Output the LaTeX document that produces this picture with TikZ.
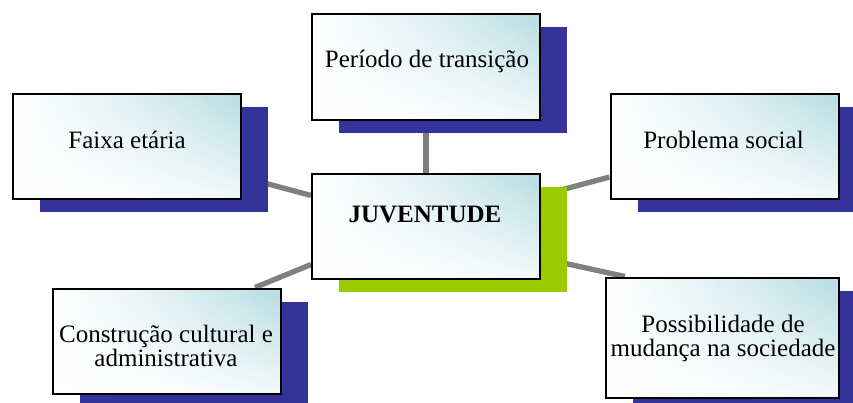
\documentclass[tikz,border=0pt]{standalone}
\usepackage{fontspec}
\setmainfont{Liberation Serif}
\usepackage{xcolor}
\definecolor{azul}{RGB}{51,51,153}
\definecolor{verde}{RGB}{153,204,0}
\definecolor{cinza}{RGB}{128,128,128}
\definecolor{agua}{RGB}{186,223,227}
\usetikzlibrary{shadows, fadings, calc, backgrounds}

\begin{document}
\begin{tikzpicture}[x=0.75pt, y=-0.75pt,
    caixa/.style={draw=black, line width=1.5pt, inner sep=0pt,
        minimum width=171pt, minimum height=78.75pt,
        top color=agua, middle color=agua!25!white, bottom color=white, shading angle=-8,
        postaction={fill=white, path fading=east},
        postaction={draw=black, line width=1.5pt},
        drop shadow={fill=#1, opacity=1, shadow xshift=20.25pt, shadow yshift=-9.75pt}},
    caixa/.default=azul,
    rotulo/.style={anchor=base, align=center, font=\fontsize{18.75}{17.6}\selectfont},
    ligacao/.style={draw=cinza, line width=4pt}]
    \useasboundingbox (0,0) rectangle (853,403);

    % Boxes
    \node[caixa] (faixa) at (127,146.5) {};
    \node[caixa] (periodo) at (426,67) {};
    \node[caixa=verde] (juv) at (426,226) {};
    \node[caixa] (problema) at (724.5,146.5) {};
    \node[caixa, minimum width=174.75pt, minimum height=90pt] (possib) at (722.5,337.5) {};
    \node[caixa] (constr) at (166.5,341) {};

    % Texts (base = last line)
    \node[rotulo] at (127,148) {Faixa etária};
    \node[rotulo] at (427,68) {Período de transição};
    \node[rotulo, font=\fontsize{18.75}{17.6}\selectfont\bfseries] at (425,222) {JUVENTUDE};
    \node[rotulo] at (723.5,148) {Problema social};
    \node[rotulo] at (723,356) {Possibilidade de\\mudança na sociedade};
    \node[rotulo] at (166,366) {Construção cultural e\\administrativa};

    % Connectors behind the boxes
    \begin{scope}[on background layer]
        \draw[ligacao] (periodo) -- (juv);
        \draw[ligacao] (faixa) -- (juv);
        \draw[ligacao] (juv) -- (problema);
        \draw[ligacao] ($(juv.west)!0.72!(juv.south west)$) -- ($(constr.north)!0.77!(constr.north east)$);
        \draw[ligacao] ($(juv.east)!0.6!(juv.south east)$) -- ($(possib.north west)!0.085!(possib.north east)$);
    \end{scope}
\end{tikzpicture}
\end{document}
